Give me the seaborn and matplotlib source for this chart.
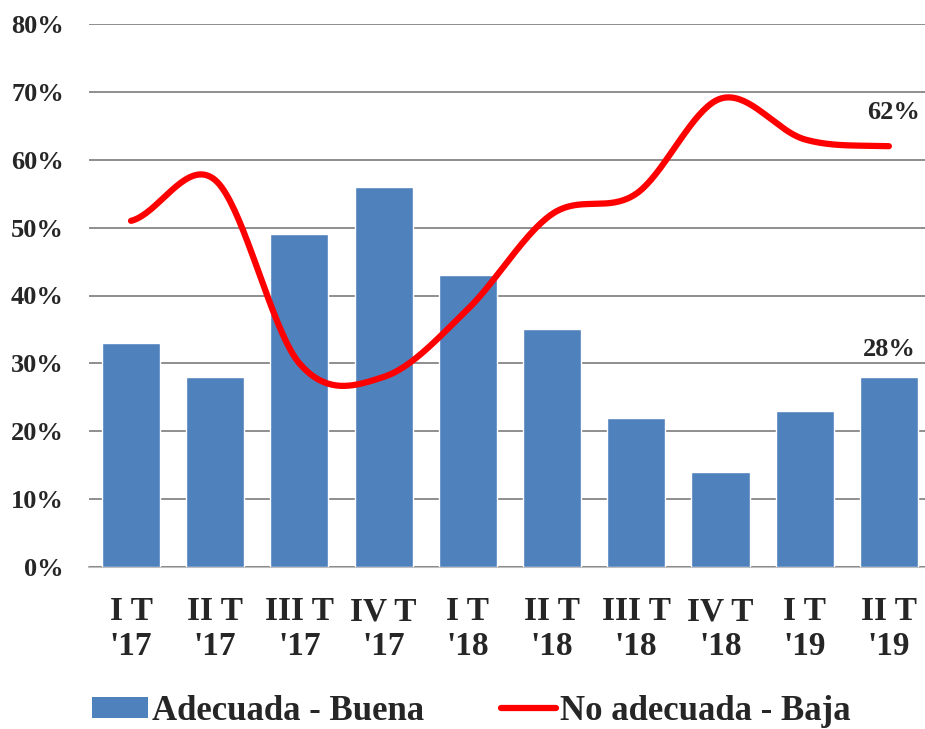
import numpy as np
import matplotlib
matplotlib.use("Agg")
import matplotlib.pyplot as plt
import seaborn as sns
from matplotlib.lines import Line2D
from matplotlib.patches import Patch

quarters = ["I T\n'17", "II T\n'17", "III T\n'17", "IV T\n'17", "I T\n'18",
            "II T\n'18", "III T\n'18", "IV T\n'18", "I T\n'19", "II T\n'19"]
adecuada = [33, 28, 49, 56, 43, 35, 22, 14, 23, 28]
no_adecuada = [51, 57, 30, 28, 38, 52, 55, 69, 63, 62]
y_ticks = [0, 10, 20, 30, 40, 50, 60, 70, 80]

bar_color = "#4F81BD"
line_color = "#FF0000"


def smooth(values, steps=40):
    # excel-like smoothed line (bezier through every point)
    pts = np.asarray(values, dtype=float)
    ext = np.concatenate([[pts[0]], pts, [pts[-1]]])
    xs, ys = [], []
    t = np.linspace(0, 1, steps)
    for i in range(len(pts) - 1):
        p0, p1, p2, p3 = ext[i], ext[i + 1], ext[i + 2], ext[i + 3]
        c1 = p1 + (p2 - p0) / 6
        c2 = p2 - (p3 - p1) / 6
        y = (1 - t) ** 3 * p1 + 3 * (1 - t) ** 2 * t * c1 + 3 * (1 - t) * t ** 2 * c2 + t ** 3 * p2
        xs.append(i + t)
        ys.append(y)
    return np.concatenate(xs), np.concatenate(ys)


sns.set_style("white")
plt.rcParams["font.family"] = ["Liberation Serif", "DejaVu Serif"]
plt.rcParams["font.weight"] = "bold"

fig = plt.figure(figsize=(9.25, 7.29), dpi=100)
ax = fig.add_axes([88.9 / 925, 1 - 567 / 729, (931 - 88.9) / 925, 543 / 729])

sns.barplot(x=quarters, y=adecuada, color=bar_color, saturation=1, width=0.69, ax=ax)

sx, sy = smooth(no_adecuada)
ax.plot(sx, sy, color=line_color, lw=4.5, solid_capstyle="round", zorder=3)

ax.set_ylim(0, 80)
ax.set_xlim(-0.5, len(quarters) - 0.5)
ax.set_yticks(y_ticks)
ax.set_yticklabels([f"{v}%" for v in y_ticks], fontsize=19, fontweight="bold")
ax.set_xticks(range(len(quarters)))
ax.set_xticklabels(quarters, fontsize=24, fontweight="bold", linespacing=1.17)
ax.tick_params(axis="y", length=0, pad=18)
ax.tick_params(axis="x", length=0, pad=21)
ax.set_xlabel("")
ax.set_ylabel("")

ax.yaxis.grid(True, color="#868686", lw=1.3)
ax.set_axisbelow(True)
for side in ["left", "right", "top"]:
    ax.spines[side].set_visible(False)
ax.spines["bottom"].set_color("#BFBFBF")
ax.spines["bottom"].set_linewidth(1.5)
ax.spines["bottom"].set_zorder(0.5)

last = len(quarters) - 1
ax.annotate(f"{no_adecuada[last]}%", (last, no_adecuada[last]), xytext=(3.5, 24.5),
            textcoords="offset points", ha="center", va="center", fontsize=19, fontweight="bold")
ax.annotate(f"{adecuada[last]}%", (last, adecuada[last]), xytext=(0, 19.5),
            textcoords="offset points", ha="center", va="center", fontsize=19, fontweight="bold")

handles = [Patch(facecolor=bar_color, edgecolor="none"),
           Line2D([0], [0], color=line_color, lw=4.5, solid_capstyle="round")]
fig.legend(handles, ["Adecuada - Buena", "No adecuada - Baja"], loc="center",
           bbox_to_anchor=(0.51, 1 - 711 / 729), ncol=2, frameon=False,
           prop={"size": 25, "weight": "bold"}, handlelength=1.6, handleheight=0.55,
           handletextpad=0.12, columnspacing=2.2)

fig.savefig("out.png", dpi=100)
